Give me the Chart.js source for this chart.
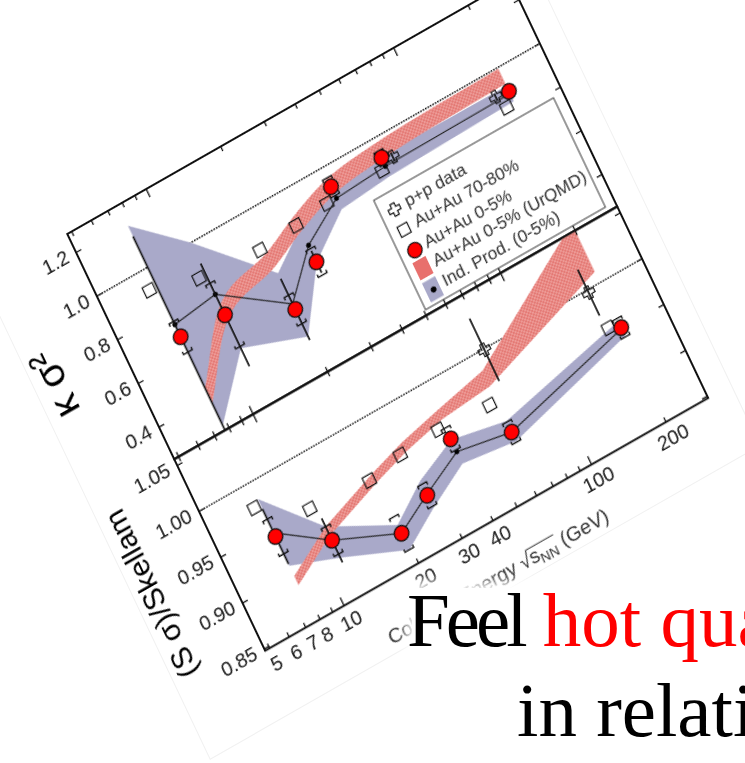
<!DOCTYPE html>
<html>
<head>
<meta charset="utf-8">
<script src="https://cdn.jsdelivr.net/npm/chart.js@4.4.1/dist/chart.umd.min.js"></script>
<style>
  html, body { margin: 0; padding: 0; background: #fff; }
  body { width: 745px; height: 763px; overflow: hidden; position: relative; }
  /* the whole figure is tilted and slightly sheared on the slide */
  #fig { position: absolute; left: 0; top: 0; width: 660px; height: 600px;
         transform-origin: 0 0;
         transform: matrix(0.8686, -0.4955, 0.4289, 0.9033, -45.40, 252.37); }
  #fig canvas { position: absolute; left: 0; top: 0; }
  #sheet { position: absolute; left: 13px; top: -400px; width: 632px; height: 967px;
           border: 1px solid rgba(0,0,0,0.06); }
  #veil { position: absolute; left: 412px; top: 588px; width: 400px; height: 220px;
          background: #fff; box-shadow: 0 0 12px 6px #fff; }
  .line { position: absolute; font-family: "Liberation Serif", "Times New Roman", serif;
          font-size: 77px; line-height: 90px; white-space: nowrap; color: #000; }
  .red { color: #f00; }
</style>
</head>
<body>
<div id="fig">
  <div id="sheet"></div>
  <canvas id="kappa" width="660" height="600"></canvas>
  <canvas id="skew" width="660" height="600"></canvas>
</div>
<div id="veil"></div>
<div class="line" style="left:407px;top:575px"><span style="letter-spacing:-4px">Feel</span> <span class="red">hot quark matter</span></div>
<div class="line" style="left:517px;top:665px">in relativistic collisions</div>

<script>
// collision energies (GeV)
const energies = [7.7, 11.5, 19.6, 27, 39, 62.4, 200];
const xTickLabels = [5, 6, 7, 8, 10, 20, 30, 40, 100, 200];
const xMinorTicks = [5, 6, 7, 8, 9, 20, 30, 40, 50, 60, 70, 80, 90, 200];
const xMajorTicks = [10, 100];
const kTickLabels = [0.4, 0.6, 0.8, 1.0, 1.2];
const sTickLabels = [0.85, 0.90, 0.95, 1.00, 1.05];
const legendLabels = ['p+p data', 'Au+Au 70-80%', 'Au+Au 0-5%', 'Au+Au 0-5% (UrQMD)', 'Ind. Prod. (0-5%)'];

// kappa*sigma^2
const kCentral = [0.681, 0.669, 0.544, 0.672, 0.913, 0.914, 0.891];
const kCentralStat = [0.46, 0.235, 0.14, 0.05, 0.03, 0.025, 0.02];
const kCentralSys = [0.07, 0.145, 0.065, 0.06, 0.04, 0.03, 0.02];
const kPeriphX = [7.2, 10.8, 18.6, 26.4, 35.7, 60.0, 186];
const kPeriph = [0.913, 0.854, 0.831, 0.845, 0.861, 0.867, 0.838];
const ppX = [68, 178];
const kPP = [0.894, 0.898];
const kPPStat = [0.02, 0.015];
const kUrqmdLo = [0.375, 0.645, 0.74, 0.815, 0.88, 0.908, 0.926];
const kUrqmdHi = [0.445, 0.715, 0.81, 0.885, 0.95, 0.978, 0.994];
const kIndProd = [0.737, 0.763, 0.569, 0.748, 0.86, 0.875, 0.88];
const kIndLo = [0.275, 0.516, 0.42, 0.67, 0.81, 0.83, 0.845];
const kIndHi = [1.19, 1.0, 0.71, 0.83, 0.91, 0.92, 0.915];

// (S*sigma)/Skellam
const sCentral = [0.941, 0.910, 0.882, 0.902, 0.939, 0.915, 0.951];
const sCentralStat = [0.03, 0.024, 0.008, 0.008, 0.008, 0.007, 0.007];
const sCentralSys = [0.019, 0.015, 0.018, 0.012, 0.012, 0.011, 0.01];
const sPeriphX = [7.28, 10.9, 18.6, 25.5, 36.7, 58.3, 182];
const sPeriph = [0.976, 0.948, 0.943, 0.950, 0.953, 0.949, 0.957];
const sPP = [0.999, 0.997];
const sPPStat = [0.034, 0.025];
const sUrqmdLo = [0.888, 0.915, 0.938, 0.950, 0.960, 0.965, 1.012];
const sUrqmdHi = [0.898, 0.925, 0.948, 0.960, 0.970, 0.982, 1.065];
const sIndProd = [0.945, 0.91, 0.882, 0.903, 0.925, 0.915, 0.95];
const sIndLo = [0.909, 0.891, 0.864, 0.888, 0.912, 0.905, 0.942];
const sIndHi = [0.982, 0.925, 0.891, 0.918, 0.938, 0.927, 0.958];

const SANS = '"Liberation Sans", Arial, sans-serif';
const INK = '#1a1a1a';
const BLUE = '#a9a9c9';
const PLOT_LEFT = 110, PLOT_TOP = 40, PLOT_W = 510;
const UPPER_H = 249.3, LOWER_H = 212;
const CANVAS_W = 660, CANVAS_H = 600;

Chart.defaults.font.family = SANS;

function pts(xs, ys) {
  return xs.map((x, i) => ({x: x, y: ys[i]}));
}

function hatch() {
  const c = document.createElement('canvas');
  c.width = c.height = 4;
  const g = c.getContext('2d');
  g.fillStyle = '#f2a7a3';
  g.fillRect(0, 0, 4, 4);
  g.strokeStyle = '#dc5f5a';
  g.lineWidth = 0.8;
  g.beginPath();
  g.moveTo(0, 4); g.lineTo(4, 0);
  g.moveTo(0, 0); g.lineTo(4, 4);
  g.stroke();
  return g.createPattern(c, 'repeat');
}
const RED_HATCH = hatch();

function crossPath(ctx, x, y) {
  const a = 2.3, b = 6.3;
  ctx.beginPath();
  ctx.moveTo(x - a, y - b); ctx.lineTo(x + a, y - b); ctx.lineTo(x + a, y - a);
  ctx.lineTo(x + b, y - a); ctx.lineTo(x + b, y + a); ctx.lineTo(x + a, y + a);
  ctx.lineTo(x + a, y + b); ctx.lineTo(x - a, y + b); ctx.lineTo(x - a, y + a);
  ctx.lineTo(x - b, y + a); ctx.lineTo(x - b, y - a); ctx.lineTo(x - a, y - a);
  ctx.closePath();
}

function drawErrors(chart, ds, meta) {
  const {ctx, chartArea: a, scales: {y}} = chart;
  ctx.save();
  ctx.beginPath();
  ctx.rect(a.left, a.top, a.right - a.left, a.bottom - a.top);
  ctx.clip();
  ctx.strokeStyle = '#111';
  meta.data.forEach((pt, i) => {
    const v = ds.data[i].y, x = pt.x;
    if (ds.errStat) {
      ctx.lineWidth = 1.7;
      ctx.beginPath();
      ctx.moveTo(x, y.getPixelForValue(v + ds.errStat[i]));
      ctx.lineTo(x, y.getPixelForValue(v - ds.errStat[i]));
      ctx.stroke();
    }
    if (ds.errSys) {
      ctx.lineWidth = 1.4;
      for (const sign of [1, -1]) {
        const py = y.getPixelForValue(v + sign * ds.errSys[i]);
        const leg = sign * 3;
        ctx.beginPath();
        ctx.moveTo(x - 5, py + leg); ctx.lineTo(x - 5, py);
        ctx.lineTo(x + 5, py); ctx.lineTo(x + 5, py + leg);
        ctx.stroke();
      }
    }
  });
  ctx.restore();
}

function drawLegend(ctx, a) {
  const x0 = a.left + 292, y0 = a.top + 123, w = 207, h = 121;
  const rows = [18.3, 40.7, 63.8, 84, 106.4].map(r => y0 + r);
  const sx = x0 + 15, tx = x0 + 28;
  ctx.save();
  ctx.fillStyle = '#fff';
  ctx.fillRect(x0, y0, w, h);
  ctx.strokeStyle = '#333';
  ctx.lineWidth = 1;
  ctx.strokeRect(x0, y0, w, h);

  ctx.lineWidth = 1.2;
  ctx.strokeStyle = '#111';
  crossPath(ctx, sx, rows[0]);
  ctx.stroke();
  ctx.strokeRect(sx - 5.5, rows[1] - 5.5, 11, 11);
  ctx.beginPath();
  ctx.arc(sx + 1, rows[2], 7.4, 0, Math.PI * 2);
  ctx.fillStyle = '#ff0000';
  ctx.fill();
  ctx.stroke();
  ctx.fillStyle = '#e8706d';
  ctx.fillRect(sx - 7, rows[3] - 10, 15, 19);
  ctx.fillStyle = BLUE;
  ctx.fillRect(sx - 7, rows[4] - 10, 15, 21);
  ctx.fillStyle = '#000';
  ctx.beginPath();
  ctx.arc(sx + 1, rows[4] + 1, 3, 0, Math.PI * 2);
  ctx.fill();

  ctx.fillStyle = '#333';
  ctx.font = '17.5px ' + SANS;
  ctx.textBaseline = 'middle';
  legendLabels.forEach((t, i) => ctx.fillText(t, tx, rows[i]));
  ctx.restore();
}

function drawXTitle(ctx, a) {
  const main = '20px ' + SANS, sub = '14px ' + SANS;
  const parts = [['Colliding Energy ', main], ['\u221A', main], ['s', main], ['NN', sub], [' (GeV)', main]];
  ctx.save();
  const widths = parts.map(p => { ctx.font = p[1]; return ctx.measureText(p[0]).width; });
  const total = widths.reduce((s, w) => s + w, 0);
  let x = a.left + 243 - total / 2;
  const base = a.bottom + 58;
  ctx.fillStyle = '#333';
  ctx.textBaseline = 'alphabetic';
  parts.forEach((p, i) => {
    ctx.font = p[1];
    ctx.fillText(p[0], x, i === 3 ? base + 4 : base);
    if (i === 2) {
      // bar of the square root over s_NN
      ctx.strokeStyle = '#333';
      ctx.lineWidth = 1;
      ctx.beginPath();
      ctx.moveTo(x - 1, base - 16);
      ctx.lineTo(x + widths[2] + widths[3] + 1, base - 16);
      ctx.stroke();
    }
    x += widths[i];
  });
  ctx.restore();
}

const decor = {
  id: 'decor',
  beforeDatasetsDraw(chart) {
    const {ctx, chartArea: a, scales: {y}} = chart;
    const py = y.getPixelForValue(1);
    ctx.save();
    ctx.strokeStyle = '#000';
    ctx.lineWidth = 1.6;
    ctx.setLineDash([1.5, 1.3]);
    ctx.beginPath();
    ctx.moveTo(a.left, py);
    ctx.lineTo(a.right, py);
    ctx.stroke();
    ctx.restore();
  },
  beforeDatasetDraw(chart, args) {
    const ds = chart.data.datasets[args.index];
    if (ds.errStat || ds.errSys) drawErrors(chart, ds, args.meta);
  },
  afterDatasetDraw(chart, args) {
    const ds = chart.data.datasets[args.index];
    if (!ds.crossMarks) return;
    const ctx = chart.ctx;
    ctx.save();
    ctx.strokeStyle = '#111';
    ctx.lineWidth = 1.2;
    args.meta.data.forEach(pt => { crossPath(ctx, pt.x, pt.y); ctx.stroke(); });
    ctx.restore();
  },
  afterDatasetsDraw(chart, args, opts) {
    const {ctx, chartArea: a, scales: {x, y}} = chart;
    ctx.save();
    ctx.strokeStyle = '#111';
    ctx.lineWidth = 1.3;
    ctx.beginPath();
    const xt = (vals, len) => vals.forEach(v => {
      const px = x.getPixelForValue(v);
      ctx.moveTo(px, a.bottom); ctx.lineTo(px, a.bottom - len);
      ctx.moveTo(px, a.top); ctx.lineTo(px, a.top + len);
    });
    xt(xMinorTicks, 5);
    xt(xMajorTicks, 9);
    opts.yTicks.forEach(v => {
      const py = y.getPixelForValue(v);
      ctx.moveTo(a.left, py); ctx.lineTo(a.left + 6, py);
      ctx.moveTo(a.right, py); ctx.lineTo(a.right - 6, py);
    });
    ctx.stroke();
    ctx.lineWidth = 2;
    ctx.strokeRect(a.left, a.top, a.right - a.left, a.bottom - a.top);
    ctx.restore();
    if (opts.legend) drawLegend(ctx, a);
  },
  afterDraw(chart, args, opts) {
    if (opts.xTitle) drawXTitle(chart.ctx, chart.chartArea);
  }
};

function bandPair(hi, lo, fillStyle, order, curved) {
  const common = {
    borderWidth: 0, pointRadius: 0, order: order,
    cubicInterpolationMode: curved ? 'monotone' : 'default'
  };
  return [
    Object.assign({data: pts(energies, hi), fill: '+1', backgroundColor: fillStyle}, common),
    Object.assign({data: pts(energies, lo), fill: false}, common)
  ];
}

function panelDatasets(d) {
  return [
    ...bandPair(d.indHi, d.indLo, BLUE, 10, false),
    ...bandPair(d.urqmdHi, d.urqmdLo, RED_HATCH, 9, d.curved),
    {
      data: pts(energies, d.ind), borderColor: '#222', borderWidth: 1.2,
      pointRadius: 2.6, pointBackgroundColor: '#000', pointBorderWidth: 0, order: 5
    },
    {
      data: pts(d.periphX, d.periph), showLine: false, pointStyle: 'rect', pointRadius: 8,
      pointBackgroundColor: 'rgba(0,0,0,0)', pointBorderColor: '#111', pointBorderWidth: 1.2, order: 4
    },
    {
      data: pts(ppX, d.pp), showLine: false, pointRadius: 0, crossMarks: true,
      errStat: d.ppStat, order: 3
    },
    {
      data: pts(energies, d.central), showLine: false, pointRadius: 7.5,
      pointBackgroundColor: '#ff0000', pointBorderColor: '#111', pointBorderWidth: 1.3,
      errStat: d.stat, errSys: d.sys, order: 1
    }
  ];
}

function panelOptions(o) {
  return {
    responsive: false,
    animation: false,
    devicePixelRatio: 2,
    events: [],
    layout: {padding: {left: 0, right: CANVAS_W - PLOT_LEFT - PLOT_W, top: o.top, bottom: o.bottom}},
    plugins: {
      legend: {display: false},
      tooltip: {enabled: false},
      decor: {yTicks: o.yTicks, legend: o.legend, xTitle: o.xLabels}
    },
    scales: {
      x: {
        type: 'logarithmic', min: 4.8, max: 296,
        grid: {display: false, drawTicks: false}, border: {display: false},
        afterBuildTicks: s => { s.ticks = xTickLabels.map(v => ({value: v})); },
        afterFit: s => { s.height = o.xHeight; },
        ticks: {
          display: o.xLabels, autoSkip: false, maxRotation: 0, padding: 6, color: INK,
          font: {family: SANS, size: 20}, callback: v => String(v)
        }
      },
      y: {
        min: o.yMin, max: o.yMax,
        grid: {display: false, drawTicks: false}, border: {display: false},
        afterBuildTicks: s => { s.ticks = o.yTicks.map(v => ({value: v})); },
        afterFit: s => { s.width = PLOT_LEFT; },
        ticks: {
          autoSkip: false, padding: 9, color: INK,
          font: {family: SANS, size: 20}, callback: v => v.toFixed(o.digits)
        },
        title: {
          display: true, text: o.title, color: '#000',
          font: {family: SANS, size: o.titleSize}, padding: {top: o.titlePad, bottom: 0}
        }
      }
    }
  };
}

new Chart(document.getElementById('kappa'), {
  type: 'line',
  data: {
    datasets: panelDatasets({
      indHi: kIndHi, indLo: kIndLo, ind: kIndProd,
      urqmdHi: kUrqmdHi, urqmdLo: kUrqmdLo, curved: true,
      periphX: kPeriphX, periph: kPeriph, pp: kPP, ppStat: kPPStat,
      central: kCentral, stat: kCentralStat, sys: kCentralSys
    })
  },
  options: panelOptions({
    top: PLOT_TOP, bottom: CANVAS_H - PLOT_TOP - UPPER_H, xHeight: 0, xLabels: false,
    yMin: 0.253, yMax: 1.285, yTicks: kTickLabels, digits: 1,
    title: '\u03BA \u03C3\u00B2', titleSize: 40, titlePad: 12, legend: true
  }),
  plugins: [decor]
});

new Chart(document.getElementById('skew'), {
  type: 'line',
  data: {
    datasets: panelDatasets({
      indHi: sIndHi, indLo: sIndLo, ind: sIndProd,
      urqmdHi: sUrqmdHi, urqmdLo: sUrqmdLo, curved: false,
      periphX: sPeriphX, periph: sPeriph, pp: sPP, ppStat: sPPStat,
      central: sCentral, stat: sCentralStat, sys: sCentralSys
    })
  },
  options: panelOptions({
    top: PLOT_TOP + UPPER_H, bottom: CANVAS_H - PLOT_TOP - UPPER_H - LOWER_H - 30, xHeight: 30, xLabels: true,
    yMin: 0.848, yMax: 1.057, yTicks: sTickLabels, digits: 2,
    title: '(S \u03C3)/Skellam', titleSize: 30, titlePad: 15, legend: false
  }),
  plugins: [decor]
});
</script>
</body>
</html>
